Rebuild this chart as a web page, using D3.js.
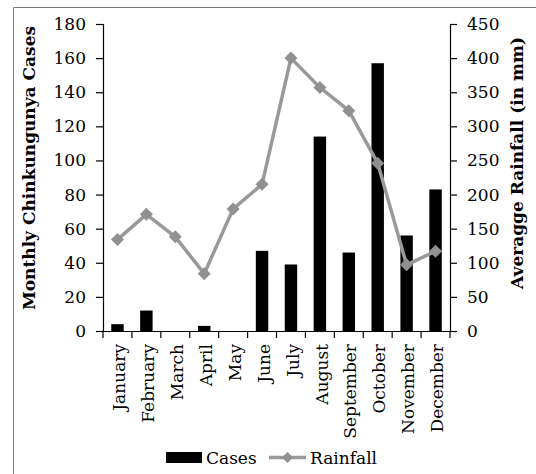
<!DOCTYPE html>
<html>
<head>
<meta charset="utf-8">
<script src="https://cdn.jsdelivr.net/npm/d3@7"></script>
<style>
  html, body { margin: 0; padding: 0; background: #fff; }
  svg { display: block; font-family: "DejaVu Serif", "Liberation Serif", serif; }
</style>
</head>
<body>
<svg id="chart" width="536" height="474"></svg>
<script>
// Monthly chikungunya cases and average rainfall
const months = ["January", "February", "March", "April", "May", "June",
  "July", "August", "September", "October", "November", "December"];
const cases = [4, 12, 0, 3, 0, 47, 39, 114, 46, 157, 56, 83];
const rainfall = [134, 171, 138, 84, 179, 215, 400, 357, 323, 246, 97, 117];
const caseTicks = [0, 20, 40, 60, 80, 100, 120, 140, 160, 180];
const rainTicks = [0, 50, 100, 150, 200, 250, 300, 350, 400, 450];

const svg = d3.select("#chart");
const plotLeft = 103, plotRight = 450, plotTop = 24, plotBottom = 331;
const lineGrey = "#999999";
const markerGrey = "#909090";

// Outer frame (open at right and bottom edges of the page)
svg.append("path")
  .attr("d", "M13.5,480V7.5H540")
  .attr("fill", "none").attr("stroke", "#7a7a7a").attr("stroke-width", 1);

const x = d3.scaleBand().domain(months).range([plotLeft, plotRight])
  .paddingInner(0.57).paddingOuter(0.285);
const yCases = d3.scaleLinear().domain([0, 180]).range([plotBottom, plotTop]);
const yRain = d3.scaleLinear().domain([0, 450]).range([plotBottom, plotTop]);

// Bars
svg.append("g").selectAll("rect").data(months).join("rect")
  .attr("x", (d) => x(d))
  .attr("width", x.bandwidth())
  .attr("y", (d, i) => yCases(cases[i]))
  .attr("height", (d, i) => yCases(0) - yCases(cases[i]))
  .attr("fill", "#000");

// Left axis
const axL = svg.append("g").attr("transform", `translate(${plotLeft},0)`)
  .call(d3.axisLeft(yCases).tickValues(caseTicks).tickSize(7).tickPadding(10));
// Right axis
const axR = svg.append("g").attr("transform", `translate(${plotRight},0)`)
  .call(d3.axisRight(yRain).tickValues(rainTicks).tickSize(7).tickPadding(10));
[axL, axR].forEach((g) => {
  g.select(".domain").attr("stroke", "#000").attr("stroke-width", 1.2);
  g.selectAll(".tick line").attr("stroke", "#000").attr("stroke-width", 1.2);
  g.selectAll(".tick text").attr("font-size", 17).attr("fill", "#000")
    .attr("font-family", "DejaVu Serif, serif");
});

// Bottom axis: labels at band centres, ticks at band boundaries
const axB = svg.append("g").attr("transform", `translate(0,${plotBottom})`)
  .call(d3.axisBottom(x).tickSize(0).tickSizeOuter(0).tickPadding(0));
axB.select(".domain").attr("stroke", "#000").attr("stroke-width", 1.2);
axB.selectAll(".tick text")
  .attr("font-size", 17).attr("fill", "#000")
  .attr("font-family", "DejaVu Serif, serif")
  .attr("text-anchor", "end")
  .attr("transform", "rotate(-90)")
  .attr("x", -13).attr("y", 0).attr("dy", "0.45em");
const step = x.step();
const bounds = d3.range(months.length + 1).map((i) => plotLeft + i * step);
axB.selectAll("line.bound").data(bounds).join("line")
  .attr("class", "bound")
  .attr("x1", (d) => d).attr("x2", (d) => d)
  .attr("y1", 0).attr("y2", 7)
  .attr("stroke", "#000").attr("stroke-width", 1.2);

// Rainfall line with diamond markers
const cx = (d) => x(d) + x.bandwidth() / 2;
const line = d3.line().x((d, i) => cx(months[i])).y((d) => yRain(d));
svg.append("path").datum(rainfall)
  .attr("d", line)
  .attr("fill", "none").attr("stroke", lineGrey).attr("stroke-width", 3.5)
  .attr("stroke-linejoin", "round");
const diamond = (r) => `M0,${-r}L${r},0L0,${r}L${-r},0Z`;
svg.append("g").selectAll("path").data(rainfall).join("path")
  .attr("d", diamond(6.5))
  .attr("transform", (d, i) => `translate(${cx(months[i])},${yRain(d)})`)
  .attr("fill", markerGrey);

// Axis titles
svg.append("text")
  .attr("transform", "translate(35,168) rotate(-90)")
  .attr("text-anchor", "middle")
  .attr("font-size", 17).attr("font-weight", "bold")
  .text("Monthly Chinkungunya Cases");
svg.append("text")
  .attr("transform", "translate(523,163) rotate(-90)")
  .attr("text-anchor", "middle")
  .attr("font-size", 17).attr("font-weight", "bold")
  .text("Averagge Rainfall (in mm)");

// Legend
const lg = svg.append("g");
lg.append("rect").attr("x", 166).attr("y", 452).attr("width", 36).attr("height", 11)
  .attr("fill", "#000");
lg.append("text").attr("x", 206).attr("y", 464).attr("font-size", 17).text("Cases");
lg.append("line").attr("x1", 269).attr("x2", 306).attr("y1", 457.5).attr("y2", 457.5)
  .attr("stroke", lineGrey).attr("stroke-width", 3.5);
lg.append("path").attr("d", diamond(5.5))
  .attr("transform", "translate(287.5,457.5)").attr("fill", markerGrey);
lg.append("text").attr("x", 310).attr("y", 464).attr("font-size", 17).text("Rainfall");
</script>
</body>
</html>
